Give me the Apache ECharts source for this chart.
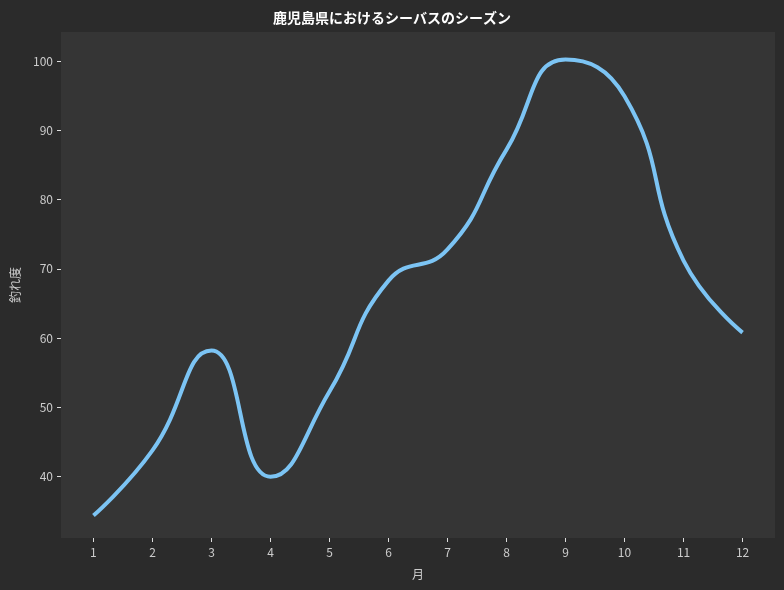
<!DOCTYPE html>
<html>
<head>
<meta charset="utf-8">
<script src="https://cdn.jsdelivr.net/npm/echarts@6/dist/echarts.min.js"></script>
<style>
html,body{margin:0;padding:0;background:#2b2b2b;}
#chart{width:784px;height:590px;}
</style>
</head>
<body>
<div id="chart"></div>
<script>
const months = [1, 2, 3, 4, 5, 6, 7, 8, 9, 10, 11, 12];
const catchLevel = [34.4, 43.8, 58.2, 40.0, 52.3, 68.3, 72.8, 87.2, 100.2, 94.9, 71.2, 60.8];
const xTicks = [1, 2, 3, 4, 5, 6, 7, 8, 9, 10, 11, 12];
const yTicks = [40, 50, 60, 70, 80, 90, 100];

const font = '"Noto Sans CJK JP", "Noto Sans", sans-serif';
const chart = echarts.init(document.getElementById('chart'), null, {renderer: 'canvas'});
chart.setOption({
  backgroundColor: '#2b2b2b',
  animation: false,
  title: {
    text: '鹿児島県におけるシーバスのシーズン',
    left: 'center',
    top: 6,
    textStyle: {color: '#ffffff', fontSize: 14, fontWeight: 'bold', fontFamily: font}
  },
  grid: {
    left: 61, right: 9, top: 32, bottom: 52,
    containLabel: false,
    outerBoundsMode: 'none',
    show: true, backgroundColor: '#353535', borderWidth: 0
  },
  xAxis: {
    type: 'value',
    min: 0.45, max: 12.55,
    name: '月',
    nameLocation: 'middle',
    nameGap: 30,
    nameTextStyle: {color: '#cccccc', fontSize: 12, fontFamily: font},
    axisLine: {show: false},
    splitLine: {show: false},
    axisTick: {show: true, customValues: xTicks, length: 4, lineStyle: {color: '#dddddd', width: 1}},
    axisLabel: {customValues: xTicks, color: '#cccccc', fontSize: 12, margin: 8, fontFamily: font}
  },
  yAxis: {
    type: 'value',
    min: 31.16, max: 104.18,
    name: '釣れ度',
    nameLocation: 'middle',
    nameGap: 40,
    nameRotate: 90,
    nameTextStyle: {color: '#cccccc', fontSize: 12, fontFamily: font},
    axisLine: {show: false},
    splitLine: {show: false},
    axisTick: {show: true, customValues: yTicks, length: 4, lineStyle: {color: '#dddddd', width: 1}},
    axisLabel: {customValues: yTicks, color: '#cccccc', fontSize: 12, margin: 8, fontFamily: font}
  },
  series: [{
    type: 'line',
    data: months.map((m, i) => [m, catchLevel[i]]),
    smooth: 0.5,
    showSymbol: false,
    lineStyle: {color: '#7cc4f4', width: 4, cap: 'butt'}
  }]
});
</script>
</body>
</html>
